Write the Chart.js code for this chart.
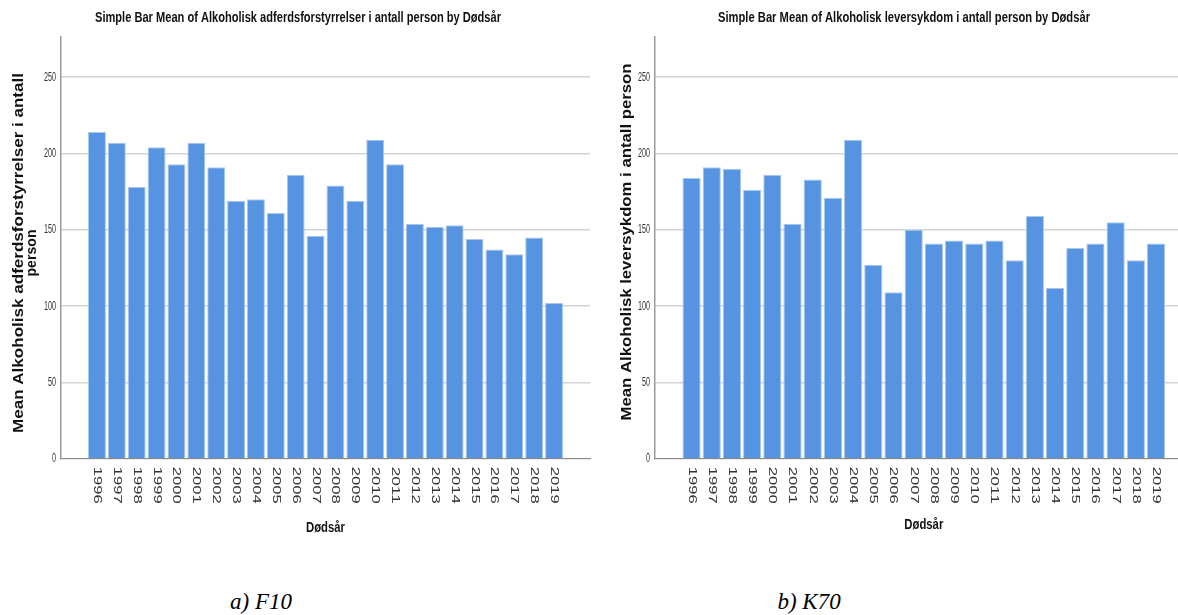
<!DOCTYPE html>
<html>
<head>
<meta charset="utf-8">
<script src="https://cdn.jsdelivr.net/npm/chart.js@4/dist/chart.umd.min.js"></script>
<style>
  html, body { margin: 0; padding: 0; background: #fff; width: 1178px; height: 615px; overflow: hidden; }
  .panel { position: absolute; top: 0; width: 600px; height: 560px; }
  #panelF10 { left: 0; }
  #panelK70 { left: 600px; }
  .caption { position: absolute; top: 589px; width: 120px; text-align: center;
             font: italic 23px "Liberation Serif", "DejaVu Serif", serif; color: #000; }
</style>
</head>
<body>
<canvas id="panelF10" class="panel" width="600" height="560"></canvas>
<canvas id="panelK70" class="panel" width="600" height="560"></canvas>
<div class="caption" style="left:201px">a) F10</div>
<div class="caption" style="left:749px">b) K70</div>
<script>
// Death year categories
const years = [1996, 1997, 1998, 1999, 2000, 2001, 2002, 2003, 2004, 2005, 2006, 2007,
               2008, 2009, 2010, 2011, 2012, 2013, 2014, 2015, 2016, 2017, 2018, 2019];

// Mean persons per year, F10 (alkoholisk adferdsforstyrrelse)
const f10Means = [214, 207, 178, 204, 193, 207, 191, 169, 170, 161, 186, 146,
                  179, 169, 209, 193, 154, 152, 153, 144, 137, 134, 145, 102];

// Mean persons per year, K70 (alkoholisk leversykdom)
const k70Means = [184, 191, 190, 176, 186, 154, 183, 171, 209, 127, 109, 150,
                  141, 143, 141, 143, 130, 159, 112, 138, 141, 155, 130, 141];

// Value axis tick labels
const yTicks = [0, 50, 100, 150, 200, 250];

const BAR_FILL = '#5694e2';
const BAR_EDGE = '#a9c7ef';

// Draw a text string stretched/condensed along its own direction to a given length
function fitText(ctx, text, x, y, font, length, rotation, align) {
  ctx.save();
  ctx.translate(x, y);
  ctx.rotate(rotation || 0);
  ctx.font = font;
  const w = ctx.measureText(text).width;
  ctx.scale(length / w, 1);
  ctx.textAlign = align || 'center';
  ctx.textBaseline = 'middle';
  ctx.fillText(text, 0, 0);
  ctx.restore();
}

// Titles, axis titles and tick labels in the SPSS output style
const spssText = {
  id: 'spssText',
  afterDraw(chart, args, o) {
    const ctx = chart.ctx;
    const xs = chart.scales.x, ys = chart.scales.y;
    const area = chart.chartArea;
    ctx.fillStyle = '#111';
    fitText(ctx, o.title, o.titleX, 18, 'bold 15px "Liberation Sans", Arial, sans-serif', o.titleWidth);

    // year labels, rotated clockwise, read top to bottom
    ctx.fillStyle = '#333';
    xs.ticks.forEach(t => {
      fitText(ctx, String(t.value), xs.getPixelForValue(t.value), area.bottom + 8,
              '11px "Liberation Sans", Arial, sans-serif', 37, Math.PI / 2, 'left');
    });
    // value labels
    ys.ticks.forEach(t => {
      fitText(ctx, String(t.value), area.left - 5, ys.getPixelForValue(t.value),
              '12.5px "Liberation Sans", Arial, sans-serif', 12 * String(t.value).length / 3, 0, 'right');
    });

    ctx.fillStyle = '#111';
    fitText(ctx, 'Dødsår', (area.left + area.right) / 2, o.xTitleY,
            'bold 15px "Liberation Sans", Arial, sans-serif', 39);
    o.yTitle.forEach(line => {
      fitText(ctx, line.text, line.x, o.yTitleY, 'bold 14px "Liberation Sans", Arial, sans-serif',
              line.length, -Math.PI / 2);
    });
  }
};

function makePanel(id, values, text, padRight) {
  return new Chart(document.getElementById(id), {
    type: 'bar',
    data: {
      datasets: [{
        data: years.map((yr, i) => ({ x: yr, y: values[i] })),
        backgroundColor: BAR_FILL,
        borderColor: BAR_EDGE,
        borderWidth: 1,
        borderSkipped: 'bottom',
        barPercentage: 0.9,
        categoryPercentage: 1.0
      }]
    },
    options: {
      responsive: false,
      animation: false,
      events: [],
      layout: { padding: { left: text.padLeft, top: 36.7, right: padRight, bottom: 101.3 } },
      plugins: {
        legend: { display: false },
        tooltip: { enabled: false },
        spssText: text
      },
      scales: {
        x: {
          type: 'linear',
          offset: false,
          min: 1994.19,
          max: 2020.81,
          afterBuildTicks: s => { s.ticks = years.map(v => ({ value: v })); },
          ticks: { display: false },
          grid: { display: false, drawTicks: false, offset: false },
          border: { display: true, color: '#8a8a8a', width: 1 }
        },
        y: {
          min: 0,
          max: 276.5,
          afterBuildTicks: s => { s.ticks = yTicks.map(v => ({ value: v })); },
          ticks: { display: false },
          grid: { color: '#d3d3d3', lineWidth: 1.5, drawTicks: false },
          border: { display: true, color: '#9a9a9a', width: 1.5 }
        }
      }
    },
    plugins: [spssText]
  });
}

makePanel('panelF10', f10Means, {
  padLeft: 61,
  title: 'Simple Bar Mean of Alkoholisk adferdsforstyrrelser i antall person by Dødsår',
  titleX: 298, titleWidth: 406,
  xTitleY: 528,
  yTitleY: 253,
  yTitle: [
    { text: 'Mean Alkoholisk adferdsforstyrrelser i antall', x: 19, length: 360 },
    { text: 'person', x: 32, length: 47 }
  ]
}, 10);

makePanel('panelK70', k70Means, {
  padLeft: 55,
  title: 'Simple Bar Mean of Alkoholisk leversykdom i antall person by Dødsår',
  titleX: 304, titleWidth: 372,
  xTitleY: 525,
  yTitleY: 242,
  yTitle: [
    { text: 'Mean Alkoholisk leversykdom i antall person', x: 27, length: 357 }
  ]
}, 7.4);
</script>
</body>
</html>
